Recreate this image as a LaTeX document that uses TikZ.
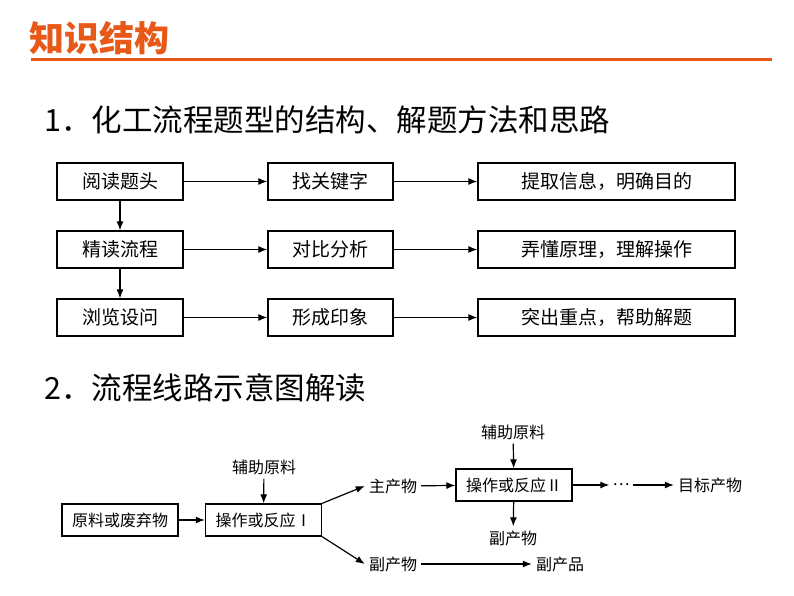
\documentclass[tikz,border=0pt]{standalone}
\usepackage{fontspec}
\setmainfont{Noto Sans CJK SC}
\usetikzlibrary{arrows.meta}
\definecolor{orangeT}{RGB}{232,89,25}
\begin{document}
\begin{tikzpicture}[x=1pt,y=-1pt,
  box/.style={draw,line width=1.3pt,inner sep=0pt,font=\fontsize{19}{22}\selectfont},
  sbox/.style={draw,line width=1.3pt,inner sep=0pt,minimum width=116pt,minimum height=32pt,font=\fontsize{16}{19}\selectfont},
  lbl/.style={inner sep=4pt,font=\fontsize{16}{19}\selectfont},
  head/.style={anchor=west,inner sep=0pt,font=\fontsize{30.5}{36}\selectfont},
  arr/.style={-{Latex[length=9pt,width=7pt]},line width=1.2pt}]
\useasboundingbox[fill=white] (0,0) rectangle (794,596);
% title
\node[anchor=west,inner sep=0pt,text=orangeT,font=\fontsize{35}{40}\selectfont\bfseries] (title) at (29,38) {知识结构};
\draw[orangeT,line width=3pt] (31,60) -- (772,60);
% heading 1
\node[head] (h1) at (44,120) {1．化工流程题型的结构、解题方法和思路};
% section 1 boxes
\foreach \n/\y/\ta/\tb/\tc in {a/181.5/阅读题头/找关键字/提取信息，明确目的,
                               b/249.5/精读流程/对比分析/弄懂原理，理解操作,
                               c/317.5/浏览设问/形成印象/突出重点，帮助解题}{
  \node[box,minimum width=126pt,minimum height=37pt] (\n1) at (120,\y) {\ta};
  \node[box,minimum width=125pt,minimum height=37pt] (\n2) at (330.5,\y) {\tb};
  \node[box,minimum width=257pt,minimum height=37pt] (\n3) at (606.5,\y) {\tc};
  \draw[arr] (\n1) -- (\n2);
  \draw[arr] (\n2) -- (\n3);
}
\draw[arr] (a1) -- (b1);
\draw[arr] (b1) -- (c1);
% heading 2
\node[head] (h2) at (44,388) {2．流程线路示意图解读};
% section 2
\node[sbox] (p1) at (120,520) {原料或废弃物};
\node[sbox] (p2) at (263.5,520) {操作或反应Ⅰ};
\node[lbl] (aux1) at (264,467) {辅助原料};
\node[lbl] (main) at (393,486) {主产物};
\node[lbl] (by1) at (393,564) {副产物};
\node[sbox] (p3) at (514,485) {操作或反应Ⅱ};
\node[lbl] (aux2) at (513,432) {辅助原料};
\node[lbl] (by2) at (513,538) {副产物};
\node[lbl,inner sep=3pt] (dots) at (621,485) {…};
\node[lbl] (target) at (710,485) {目标产物};
\node[lbl] (prod) at (560,564) {副产品};
\draw[arr] (p1) -- (p2);
\draw[arr] (aux1) -- (p2);
\draw[arr] (p2.north east) -- (main.west);
\draw[arr] (p2.south east) -- (by1.west);
\draw[arr] (main) -- (p3);
\draw[arr] (aux2) -- (p3);
\draw[arr] (p3) -- (by2);
\draw[arr] (p3) -- (dots);
\draw[arr] (dots) -- (target);
\draw[arr] (by1) -- (prod);
\end{tikzpicture}
\end{document}
